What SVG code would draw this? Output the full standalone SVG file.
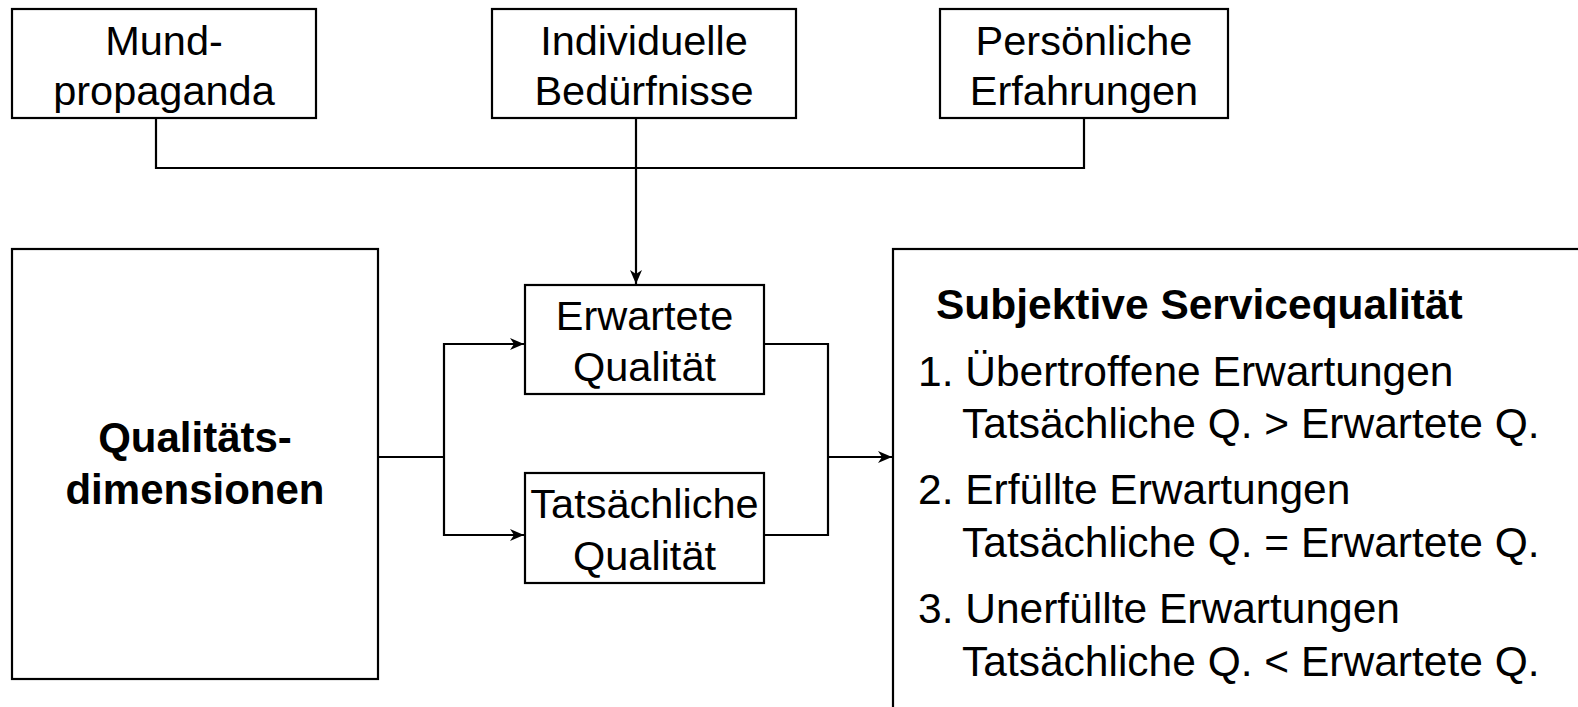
<svg xmlns="http://www.w3.org/2000/svg" width="1578" height="707" viewBox="0 0 1578 707">
<style>
  .box{fill:#fff;stroke:#000;stroke-width:2.2}
  .t{font-family:"Liberation Sans",Arial,sans-serif;font-size:41.5px;fill:#000}
  .c{text-anchor:middle}
  .b{font-weight:bold;font-size:42px}
  .r{font-size:42.5px}
  .rb{font-weight:bold;font-size:42.5px}
  .ln{fill:none;stroke:#000;stroke-width:2.2}
</style>
<defs>
  <marker id="arr" viewBox="0 0 14 12" refX="14" refY="6" markerWidth="14" markerHeight="12" markerUnits="userSpaceOnUse" orient="auto">
    <path d="M0,0 L14,6 L0,12 L4,6 Z" fill="#000"/>
  </marker>
</defs>
<rect width="1578" height="707" fill="#fff"/>
<g id="connectors">
  <polyline class="ln" points="156,118 156,168 1084,168 1084,118"/>
  <line class="ln" x1="636" y1="118" x2="636" y2="284" marker-end="url(#arr)"/>
  <line class="ln" x1="378" y1="457" x2="444" y2="457"/>
  <polyline class="ln" points="524,344 444,344 444,535 524,535"/>
  <line class="ln" x1="444" y1="344" x2="524" y2="344" marker-end="url(#arr)"/>
  <line class="ln" x1="444" y1="535" x2="524" y2="535" marker-end="url(#arr)"/>
  <polyline class="ln" points="764,344 828,344 828,535 764,535"/>
  <line class="ln" x1="828" y1="457" x2="892" y2="457" marker-end="url(#arr)"/>
</g>
<g id="n-mund">
  <rect class="box" x="12" y="9" width="304" height="109"/>
  <text class="t c" x="164" y="55">Mund-</text>
  <text class="t c" x="164" y="105">propaganda</text>
</g>
<g id="n-individuelle">
  <rect class="box" x="492" y="9" width="304" height="109"/>
  <text class="t c" x="644" y="55">Individuelle</text>
  <text class="t c" x="644" y="105">Bedürfnisse</text>
</g>
<g id="n-persoenliche">
  <rect class="box" x="940" y="9" width="288" height="109"/>
  <text class="t c" x="1084" y="55">Persönliche</text>
  <text class="t c" x="1084" y="105">Erfahrungen</text>
</g>
<g id="n-qualitaetsdimensionen">
  <rect class="box" x="12" y="249" width="366" height="430"/>
  <text class="t c b" x="195" y="452">Qualitäts-</text>
  <text class="t c b" x="195" y="504">dimensionen</text>
</g>
<g id="n-erwartete">
  <rect class="box" x="525" y="285" width="239" height="109"/>
  <text class="t c" x="644.5" y="330">Erwartete</text>
  <text class="t c" x="644.5" y="381">Qualität</text>
</g>
<g id="n-tatsaechliche">
  <rect class="box" x="525" y="473" width="239" height="110"/>
  <text class="t c" x="644.5" y="518">Tatsächliche</text>
  <text class="t c" x="644.5" y="570">Qualität</text>
</g>
<g id="n-subjektive">
  <rect class="box" x="893" y="249" width="720" height="500"/>
  <text class="t rb" x="936" y="319">Subjektive Servicequalität</text>
  <text class="t r" x="918" y="386">1. Übertroffene Erwartungen</text>
  <text class="t r" x="962" y="438">Tatsächliche Q. &gt; Erwartete Q.</text>
  <text class="t r" x="918" y="504">2. Erfüllte Erwartungen</text>
  <text class="t r" x="962" y="557">Tatsächliche Q. = Erwartete Q.</text>
  <text class="t r" x="918" y="623">3. Unerfüllte Erwartungen</text>
  <text class="t r" x="962" y="676">Tatsächliche Q. &lt; Erwartete Q.</text>
</g>
</svg>
